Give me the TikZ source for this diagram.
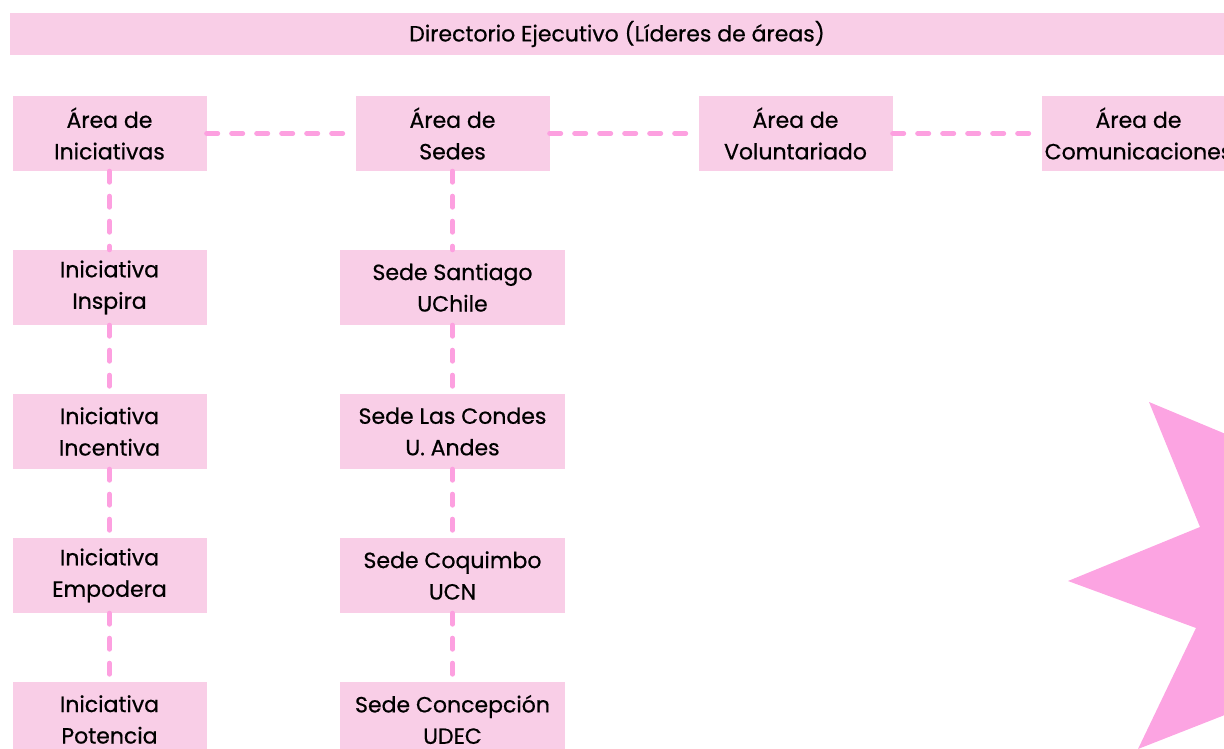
\documentclass[tikz,border=0pt]{standalone}
\usepackage{fontspec}
\setmainfont{Poppins}[BoldFont=Poppins, BoldFeatures={FakeBold=0.6}]
\usepackage{tikz}

\definecolor{boxpink}{HTML}{F9CEE7}
\definecolor{dashpink}{HTML}{FDA0E0}
\definecolor{starpink}{HTML}{FCA4E2}

\tikzset{
  area/.style={fill=boxpink, align=center, minimum width=194pt, minimum height=75pt,
               inner sep=0pt, font=\fontsize{22}{31.5}\selectfont\bfseries},
  sede/.style={area, minimum width=225pt},
  banner/.style={fill=boxpink, minimum width=1214pt, minimum height=42pt,
                 inner sep=0pt, font=\fontsize{22}{31.5}\selectfont\bfseries}
}

\begin{document}
\begin{tikzpicture}[x=1pt,y=1pt,node distance=343pt,
        every edge/.style={draw=dashpink, line width=5pt, line cap=round,
                           dash pattern=on 11pt off 14pt}]

        \useasboundingbox (0,0) rectangle (1224,-749);
        \clip (0,0) rectangle (1224,-749);

        \fill[starpink] (1149,-402) -- (1200,-527) -- (1068,-581) -- (1196,-628)
                -- (1138,-749) -- (1240,-709) -- (1240,-440) -- cycle;

        \node[banner] (dir) at (617,-34) {Directorio Ejecutivo (Líderes de áreas)};

        \node[area] (ini) at (109.5,-133.5) {Área de\\Iniciativas};
        \node[area] (sed) [right of=ini] {Área de\\Sedes};
        \node[area] (vol) [right of=sed] {Área de\\Voluntariado};
        \node[area] (com) [right of=vol] {Área de\\Comunicaciones};

        \node[area,node distance=154pt] (insp) [below of=ini] {Iniciativa\\Inspira};
        \node[area,node distance=144pt] (ince) [below of=insp] {Iniciativa\\Incentiva};
        \node[area,node distance=144pt] (empo) [below of=ince] {Iniciativa\\Empodera};
        \node[area,node distance=144pt] (pote) [below of=empo] {Iniciativa\\Potencia};

        \node[sede,node distance=154pt] (stgo) [below of=sed] {Sede Santiago\\UChile};
        \node[sede,node distance=144pt] (lcon) [below of=stgo] {Sede Las Condes\\U. Andes};
        \node[sede,node distance=144pt] (coqu) [below of=lcon] {Sede Coquimbo\\UCN};
        \node[sede,node distance=144pt] (conc) [below of=coqu] {Sede Concepción\\UDEC};

        \path (ini) edge (sed)
              (sed) edge (vol)
              (vol) edge (com)
              (ini) edge (insp)
              (insp) edge (ince)
              (ince) edge (empo)
              (empo) edge (pote)
              (sed) edge (stgo)
              (stgo) edge (lcon)
              (lcon) edge (coqu)
              (coqu) edge (conc);
    \end{tikzpicture}
\end{document}
